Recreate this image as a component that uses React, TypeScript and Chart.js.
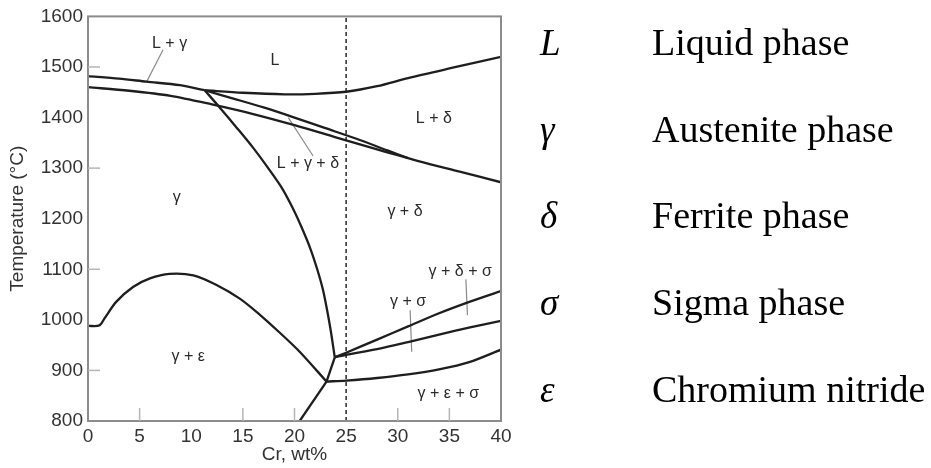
import React, { useEffect, useRef } from "react";
import { Chart, registerables } from "chart.js";

Chart.register(...registerables);

// ---- axis ranges / ticks ----
const crMin = 0;
const crMax = 40;
const tempMin = 800;
const tempMax = 1600;
const crStep = 5;
const tempStep = 100;
const yTickMarks = [900, 1100, 1300, 1500];
const xTickMarks = [5, 15, 20, 30, 35];

// ---- phase boundaries: [Cr wt%, Temperature °C] ----
const liquidusGamma: [number, number][] = [
  [0, 1482], [3, 1477], [5.66, 1471], [8.9, 1464], [11.3, 1454],
];
const liquidusDelta: [number, number][] = [
  [11.3, 1454], [15, 1449], [19, 1446], [22, 1447], [25, 1451], [28, 1462], [31, 1478], [35, 1497], [40, 1520],
];
const threePhaseUpper: [number, number][] = [
  [11.3, 1454], [14, 1438], [17, 1420], [20, 1400], [23, 1379], [26, 1358], [29, 1335], [31, 1320],
];
const solidus: [number, number][] = [
  [0, 1460], [4, 1453], [8, 1443], [12, 1426], [16, 1407], [20, 1385], [24, 1361], [28, 1337], [32, 1314], [36, 1293], [40, 1272],
];
const gammaDeltaSolvus: [number, number][] = [
  [11.3, 1454], [12.75, 1420], [14.4, 1380], [16.0, 1340], [17.45, 1300], [18.8, 1260], [19.85, 1220], [20.75, 1180], [21.55, 1140], [22.2, 1100], [22.75, 1060], [23.15, 1020], [23.5, 980], [23.9, 926],
];
const nitrideSolvus: [number, number][] = [
  [0, 988], [1.1, 989], [1.6, 1003], [2.75, 1036], [4.36, 1065], [6, 1082], [7.9, 1091], [10.2, 1088], [12.45, 1069], [14.7, 1042], [16.65, 1010], [18.5, 976], [20.5, 937], [23.1, 878],
];
const lowerBranch: [number, number][] = [[20.5, 800], [23.1, 878]];
const junctionLink: [number, number][] = [[23.1, 878], [23.9, 926]];
const sigmaUpper: [number, number][] = [
  [23.9, 926], [25, 935], [28, 961], [31, 987], [34, 1013], [37, 1036], [40, 1057],
];
const sigmaMiddle: [number, number][] = [
  [23.9, 926], [25, 931], [28, 942], [31, 956], [34, 971], [37, 985], [40, 998],
];
const sigmaLower: [number, number][] = [
  [23.1, 878], [25, 880], [28, 885], [31, 892], [34, 902], [37, 917], [40, 941],
];
const compositionLine: [number, number][] = [[25, 800], [25, 1600]];

// ---- leader lines ----
const leaderLGamma: [number, number][] = [[5.66, 1470], [7.27, 1534]];
const leaderLGammaDelta: [number, number][] = [[19.4, 1400], [21.8, 1324]];
const leaderGammaSigma: [number, number][] = [[31.2, 1019], [31.35, 937]];
const leaderGammaDeltaSigma: [number, number][] = [[36.6, 1080], [36.75, 1009]];

// ---- region labels ----
const regionLabels = ["L + γ", "L", "L + δ", "L + γ + δ", "γ + δ", "γ", "γ + ε", "γ + σ", "γ + δ + σ", "γ + ε + σ"];
const regionLabelCr = [7.9, 18.1, 33.5, 21.3, 30.7, 8.6, 9.7, 31, 36.05, 34.9];
const regionLabelT = [1547, 1513, 1397, 1308, 1215, 1242, 927, 1037, 1095, 855];

// ---- legend (phase key) ----
const keySymbols = ["L", "γ", "δ", "σ", "ε"];
const keyNames = ["Liquid phase", "Austenite phase", "Ferrite phase", "Sigma phase", "Chromium nitride"];

const toPts = (arr: [number, number][]) => arr.map(([x, y]) => ({ x, y }));

export default function App() {
  const ref = useRef<HTMLCanvasElement | null>(null);

  useEffect(() => {
    if (!ref.current) return;
    const curve = (data: [number, number][], tension = 0.3) => ({
      data: toPts(data),
      showLine: true,
      borderColor: "#1e1e1e",
      borderWidth: 2.3,
      pointRadius: 0,
      tension,
      fill: false,
    });
    const leader = (data: [number, number][]) => ({
      data: toPts(data),
      showLine: true,
      borderColor: "#8a8a8a",
      borderWidth: 1.2,
      pointRadius: 0,
      tension: 0,
      fill: false,
    });

    const overlay = {
      id: "overlay",
      afterDatasetsDraw(chart: any) {
        const { ctx, chartArea: a, scales } = chart;
        const xs = scales.x;
        const ys = scales.y;
        ctx.save();
        // frame
        ctx.strokeStyle = "#8c8c8c";
        ctx.lineWidth = 2;
        ctx.strokeRect(a.left, a.top, a.right - a.left, a.bottom - a.top);
        // inward tick marks
        ctx.strokeStyle = "#b5b5b5";
        ctx.lineWidth = 1.5;
        yTickMarks.forEach((v) => {
          const py = ys.getPixelForValue(v);
          ctx.beginPath();
          ctx.moveTo(a.left, py);
          ctx.lineTo(a.left + 12, py);
          ctx.stroke();
        });
        xTickMarks.forEach((v) => {
          const px = xs.getPixelForValue(v);
          ctx.beginPath();
          ctx.moveTo(px, a.bottom);
          ctx.lineTo(px, a.bottom - 13);
          ctx.stroke();
        });
        // region labels
        ctx.fillStyle = "#2a2a2a";
        ctx.font = '16px "Liberation Sans", Arial, sans-serif';
        ctx.textAlign = "center";
        ctx.textBaseline = "middle";
        regionLabels.forEach((t, i) => {
          ctx.fillText(t, xs.getPixelForValue(regionLabelCr[i]), ys.getPixelForValue(regionLabelT[i]));
        });
        // phase key
        ctx.fillStyle = "#000";
        ctx.textAlign = "left";
        ctx.textBaseline = "alphabetic";
        keySymbols.forEach((s, i) => {
          const by = 55 + i * 86.7;
          ctx.font = 'italic 37px "Liberation Serif", "Times New Roman", serif';
          ctx.fillText(s, 540, by);
          ctx.font = '38px "Liberation Serif", "Times New Roman", serif';
          ctx.fillText(keyNames[i], 652, by);
        });
        ctx.restore();
      },
    };

    const tickFont = { family: '"Liberation Sans", Arial, sans-serif', size: 19 };

    const chart = new Chart(ref.current, {
      type: "scatter",
      data: {
        datasets: [
          curve(liquidusGamma),
          curve(liquidusDelta),
          curve(threePhaseUpper),
          curve(solidus),
          curve(gammaDeltaSolvus),
          curve(nitrideSolvus, 0.3),
          curve(lowerBranch, 0),
          curve(junctionLink, 0),
          curve(sigmaUpper),
          curve(sigmaMiddle),
          curve(sigmaLower),
          {
            data: toPts(compositionLine),
            showLine: true,
            borderColor: "#333",
            borderWidth: 1.6,
            borderDash: [4, 3],
            pointRadius: 0,
            tension: 0,
            fill: false,
          },
          leader(leaderLGamma),
          leader(leaderLGammaDelta),
          leader(leaderGammaSigma),
          leader(leaderGammaDeltaSigma),
        ] as any,
      },
      options: {
        responsive: false,
        animation: false,
        layout: { padding: { left: 0, top: 15, right: 430, bottom: 0 } },
        plugins: {
          legend: { display: false },
          tooltip: { enabled: false },
        },
        scales: {
          x: {
            type: "linear",
            min: crMin,
            max: crMax,
            grid: { display: false, drawTicks: false },
            border: { display: false },
            ticks: {
              stepSize: crStep,
              padding: 4,
              color: "#333",
              font: tickFont,
              maxRotation: 0,
              callback: (v: any) => String(v),
            },
            title: {
              display: true,
              text: "Cr, wt%",
              color: "#333",
              font: tickFont,
              padding: { top: 0, bottom: 2 },
            },
            afterFit: (scale: any) => {
              scale.height = 47;
            },
          },
          y: {
            type: "linear",
            min: tempMin,
            max: tempMax,
            grid: { display: false, drawTicks: false },
            border: { display: false },
            ticks: {
              stepSize: tempStep,
              padding: 5,
              color: "#333",
              font: tickFont,
              callback: (v: any) => String(v),
            },
            title: {
              display: true,
              text: "Temperature (°C)",
              color: "#333",
              font: { family: '"Liberation Sans", Arial, sans-serif', size: 19 },
              padding: { top: 6, bottom: 0 },
            },
            afterFit: (scale: any) => {
              scale.width = 88;
            },
          },
        },
      } as any,
      plugins: [overlay],
    });
    return () => chart.destroy();
  }, []);

  return (
    <div style={{ position: "fixed", left: 0, top: 0, width: 931, height: 468, background: "#fff" }}>
      <canvas ref={ref} width={931} height={468} style={{ width: 931, height: 468, display: "block" }} />
    </div>
  );
}
